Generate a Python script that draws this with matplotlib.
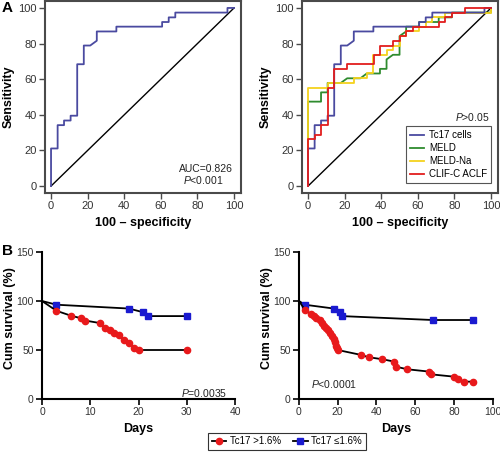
import matplotlib
matplotlib.use("Agg")
import matplotlib.pyplot as plt
from matplotlib.lines import Line2D

plt.rcParams['font.family'] = ['Liberation Sans', 'DejaVu Sans']
plt.rcParams['mathtext.fontset'] = 'custom'
plt.rcParams['mathtext.it'] = 'Liberation Sans:italic'
plt.rcParams['mathtext.rm'] = 'Liberation Sans'

# ---------------- ROC data (100 - specificity, sensitivity) ----------------
tc17_fpr = [0, 0, 3.6, 3.6, 7.1, 7.1, 10.7, 10.7, 14.3, 14.3, 17.9, 17.9, 21.4, 25, 25,
            35.7, 35.7, 60.7, 60.7, 64.3, 64.3, 67.9, 67.9, 96.4, 96.4, 100]
tc17_tpr = [0, 21.1, 21.1, 34.2, 34.2, 36.8, 36.8, 39.5, 39.5, 68.4, 68.4, 78.9, 78.9, 81.6, 86.8,
            86.8, 89.5, 89.5, 92.1, 92.1, 94.7, 94.7, 97.4, 97.4, 100, 100]

meld_fpr = [0, 0, 7.1, 7.1, 10.7, 10.7, 17.9, 21.4, 28.6, 32.1, 39.3, 39.3, 42.9, 42.9, 46.4,
            50, 50, 53.6, 53.6, 60.7, 60.7, 71.4, 71.4, 78.6, 78.6, 100, 100]
meld_tpr = [0, 47.4, 47.4, 52.6, 52.6, 57.9, 57.9, 60.5, 60.5, 63.2, 63.2, 65.8, 65.8, 71.1, 73.7,
            73.7, 84.2, 86.8, 89.5, 89.5, 92.1, 92.1, 94.7, 94.7, 97.4, 97.4, 100]

meldna_fpr = [0, 0, 10.7, 10.7, 25, 25, 32.1, 32.1, 35.7, 35.7, 42.9, 42.9, 46.4, 46.4, 50,
              50, 53.6, 53.6, 60.7, 60.7, 64.3, 64.3, 67.9, 67.9, 75, 75, 100, 100]
meldna_tpr = [0, 55.3, 55.3, 57.9, 57.9, 60.5, 60.5, 63.2, 63.2, 73.7, 73.7, 76.3, 76.3, 78.9, 78.9,
              84.2, 84.2, 86.8, 86.8, 89.5, 89.5, 92.1, 92.1, 94.7, 94.7, 97.4, 97.4, 100]

clif_fpr = [0, 0, 3.6, 3.6, 7.1, 7.1, 10.7, 10.7, 14.3, 14.3, 21.4, 21.4, 36, 36, 39.3, 39.3,
            46.4, 46.4, 50, 50, 53.6, 53.6, 57.1, 57.1, 71.4, 71.4, 75, 75, 78.6, 78.6, 85.7, 85.7, 100]
clif_tpr = [0, 26.3, 26.3, 28.9, 28.9, 34.2, 34.2, 55.3, 55.3, 65.8, 65.8, 68.4, 68.4, 73.7, 73.7, 78.9,
            78.9, 81.6, 81.6, 84.2, 84.2, 86.8, 86.8, 89.5, 89.5, 92.1, 92.1, 94.7, 94.7, 97.4, 97.4, 100, 100]

roc_names = ["Tc17 cells", "MELD", "MELD-Na", "CLIF-C ACLF"]

# ---------------- Survival data ----------------
d30_high_days = [0, 3, 6, 8, 9, 12, 13, 14, 15, 16, 17, 18, 19, 20, 30]
d30_high_surv = [100, 90, 85, 82.5, 80, 77.5, 72.5, 70, 67.5, 65, 60, 57.5, 52.5, 50, 50]
d30_low_days = [0, 3, 18, 21, 22, 30]
d30_low_surv = [100, 96.2, 92.3, 88.5, 84.6, 84.6]

d90_high_days = [0, 3, 6, 8, 9, 11, 12, 13, 14, 15, 16, 17, 18, 18.5, 19, 19.5, 20, 32, 36, 43, 49, 50,
                 56, 67, 68, 80, 82, 85, 90]
d90_high_surv = [100, 91, 87, 85, 82.5, 80.8, 78, 74.6, 72.3, 70, 67.8, 64.4, 61, 58.6, 54.2, 51.8, 50,
                 45, 42.6, 40.6, 38.2, 33, 30.3, 28, 25.2, 22.8, 20.4, 17.7, 17.7]
d90_low_days = [0, 3, 18, 21, 22, 69, 90]
d90_low_surv = [100, 96.2, 92.3, 88.5, 84.6, 80.6, 80.6]

group_names = ["Tc17 >1.6%", "Tc17 \u22641.6%"]

# ---------------- Figure ----------------
fig = plt.figure(figsize=(5.0, 4.63), dpi=100)

W, H = 500.0, 463.0
def ax_px(l, r, t, b):
    return fig.add_axes([l / W, 1 - b / H, (r - l) / W, (b - t) / H])

spine_col = '#4a4a4a'
tick_col = '#333333'

def style_roc(ax):
    ax.set_xlim(-3.3, 103.8)
    ax.set_ylim(-3.9, 103.9)
    for s in ax.spines.values():
        s.set_color(spine_col)
        s.set_linewidth(1.5)
    ax.set_xticks([0, 20, 40, 60, 80, 100])
    ax.set_yticks([0, 20, 40, 60, 80, 100])
    ax.tick_params(direction='out', length=4, width=1, color=spine_col,
                   labelsize=8, labelcolor=tick_col, pad=2)
    ax.set_xlabel("100 \u2013 specificity", fontsize=9, fontweight='bold', labelpad=4)
    ax.set_ylabel("Sensitivity", fontsize=9, fontweight='bold', va='center')
    ax.yaxis.set_label_coords(-0.185, 0.5)
    ax.plot([0, 100], [0, 100], color='black', lw=1.0, zorder=1)

blue_c = '#4a4aa0'
green_c = '#2e8b2e'
yellow_c = '#f5d21e'
red_c = '#e21e1e'

ax1 = ax_px(45, 241, 1, 193)
style_roc(ax1)
ax1.plot(tc17_fpr, tc17_tpr, color=blue_c, lw=1.3, zorder=3)
ax1.text(99.5, 9.5, "AUC=0.826", ha='right', va='center', fontsize=7.5, color='#222222')
ax1.text(83, 3.5, "$P$<0.001", ha='center', va='center', fontsize=7.5, color='#222222')

ax2 = ax_px(302, 498, 1, 193)
style_roc(ax2)
ax2.plot(meld_fpr, meld_tpr, color=green_c, lw=1.3, zorder=3, label=roc_names[1])
ax2.plot(meldna_fpr, meldna_tpr, color=yellow_c, lw=1.3, zorder=3, label=roc_names[2])
ax2.plot(tc17_fpr, tc17_tpr, color=blue_c, lw=1.3, zorder=4, label=roc_names[0])
ax2.plot(clif_fpr, clif_tpr, color=red_c, lw=1.3, zorder=5, label=roc_names[3])
h, l = ax2.get_legend_handles_labels()
order = [2, 0, 1, 3]
leg = ax2.legend([h[i] for i in order], [l[i] for i in order], loc='lower right',
                 bbox_to_anchor=(0.965, 0.052), borderaxespad=0, fontsize=7,
                 handlelength=1.5, handletextpad=0.5, labelspacing=0.3,
                 fancybox=False, framealpha=1, edgecolor='#555555', borderpad=0.4)
leg.get_frame().set_linewidth(0.8)
ax2.text(99.5, 38.5, "$P$>0.05", ha='right', va='center', fontsize=7.5, color='#222222')

def style_surv(ax, xmax, xticks):
    ax.set_xlim(0, xmax)
    ax.set_ylim(0, 150)
    ax.set_xticks(xticks)
    ax.set_yticks([0, 50, 100, 150])
    ax.spines['top'].set_visible(False)
    ax.spines['right'].set_visible(False)
    for s in ('left', 'bottom'):
        ax.spines[s].set_linewidth(1.5)
        ax.spines[s].set_color('black')
    ax.tick_params(direction='out', length=4, width=1.2, color='black',
                   labelsize=7.5, labelcolor=tick_col, pad=2)
    ax.set_xlabel("Days", fontsize=9, fontweight='bold', labelpad=4)
    ax.set_ylabel("Cum survival (%)", fontsize=9, fontweight='bold', va='center')
    ax.yaxis.set_label_coords(-0.165, 0.55)

red_m = '#e8191b'
blue_m = '#1a1ad0'

ax3 = ax_px(42, 235, 252, 399)
style_surv(ax3, 40, [0, 10, 20, 30, 40])
ax3.plot(d30_low_days, d30_low_surv, color='black', lw=1.3, marker='s', markersize=4.5,
         markerfacecolor=blue_m, markeredgecolor=blue_m, markevery=list(range(1, len(d30_low_days))),
         clip_on=False, zorder=3)
ax3.plot(d30_high_days, d30_high_surv, color='black', lw=1.3, marker='o', markersize=4.5,
         markerfacecolor=red_m, markeredgecolor=red_m, markevery=list(range(1, len(d30_high_days))),
         clip_on=False, zorder=3)
ax3.text(38.5, 2.5, "$P$=0.0035", ha='right', va='baseline', fontsize=7.5, color='#222222')

ax4 = ax_px(299, 492.7, 252, 399)
style_surv(ax4, 100, [0, 20, 40, 60, 80, 100])
ax4.plot(d90_low_days, d90_low_surv, color='black', lw=1.3, marker='s', markersize=4.5,
         markerfacecolor=blue_m, markeredgecolor=blue_m, markevery=list(range(1, len(d90_low_days))),
         clip_on=False, zorder=3)
ax4.plot(d90_high_days, d90_high_surv, color='black', lw=1.3, marker='o', markersize=4.5,
         markerfacecolor=red_m, markeredgecolor=red_m, markevery=list(range(1, len(d90_high_days))),
         clip_on=False, zorder=3)
ax4.text(6.4, 11, "$P$<0.0001", ha='left', va='baseline', fontsize=7.5, color='#222222')

handles = [Line2D([], [], color='black', lw=1.3, marker='o', markersize=4.5,
                  markerfacecolor=red_m, markeredgecolor=red_m),
           Line2D([], [], color='black', lw=1.3, marker='s', markersize=4.5,
                  markerfacecolor=blue_m, markeredgecolor=blue_m)]
fleg = fig.legend(handles, group_names, loc='center', bbox_to_anchor=(287 / W, 1 - 441.5 / H),
                  ncol=2, fontsize=7, handlelength=1.5, handletextpad=0.4, columnspacing=1.2,
                  fancybox=False, framealpha=1, edgecolor='#333333', borderpad=0.35)
fleg.get_frame().set_linewidth(0.8)

fig.text(2 / W, 1 - 0.5 / H, "A", fontsize=11, fontweight='bold', va='top', ha='left')
fig.text(2 / W, 1 - 244 / H, "B", fontsize=11, fontweight='bold', va='top', ha='left')

fig.savefig("out.png", dpi=100)
